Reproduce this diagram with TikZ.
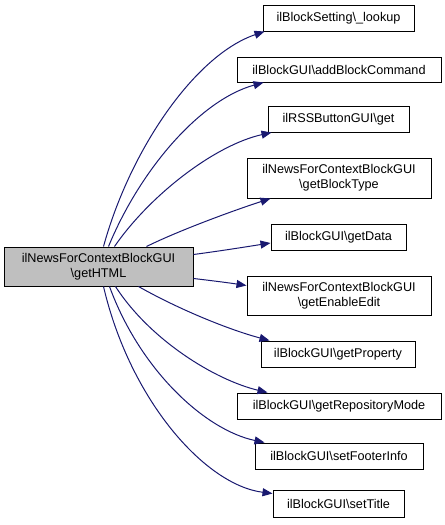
\documentclass[tikz,border=0pt]{standalone}
\usepackage{fontspec}
\setmainfont{Liberation Sans}
\usetikzlibrary{arrows.meta,calc}
\definecolor{edgecol}{HTML}{191970}
\definecolor{mainfill}{HTML}{BFBFBF}
\tikzset{
  box/.style={draw=black, line width=0.75pt, fill=white, align=center, inner sep=1pt,
    font=\fontsize{9.5}{11}\selectfont},
  mainbox/.style={box, fill=mainfill},
  edge/.style={draw=edgecol, line width=0.75pt, -{Triangle[length=7.5pt,width=6pt]}, edgecol}
}
\begin{document}
\begin{tikzpicture}[x=0.75pt,y=-0.75pt]
\useasboundingbox (0,0) rectangle (445,525);
\node[mainbox, minimum width={189*0.75pt}, minimum height={39*0.75pt}] (main) at (98.5,266.5) {ilNewsForContextBlockGUI\\\textbackslash getHTML};
\node[box, minimum width={151*0.75pt}, minimum height={26*0.75pt}] (t1) at (338.5,18) {ilBlockSetting\textbackslash\_lookup};
\node[box, minimum width={204*0.75pt}, minimum height={25*0.75pt}] (t2) at (339,69.5) {ilBlockGUI\textbackslash addBlockCommand};
\node[box, minimum width={141*0.75pt}, minimum height={26*0.75pt}] (t3) at (338.5,119) {ilRSSButtonGUI\textbackslash get};
\node[box, minimum width={184*0.75pt}, minimum height={40*0.75pt}] (t4) at (339,178) {ilNewsForContextBlockGUI\\\textbackslash getBlockType};
\node[box, minimum width={135*0.75pt}, minimum height={26*0.75pt}] (t5) at (338.5,237) {ilBlockGUI\textbackslash getData};
\node[box, minimum width={184*0.75pt}, minimum height={39*0.75pt}] (t6) at (339,295.5) {ilNewsForContextBlockGUI\\\textbackslash getEnableEdit};
\node[box, minimum width={154*0.75pt}, minimum height={26*0.75pt}] (t7) at (338,354) {ilBlockGUI\textbackslash getProperty};
\node[box, minimum width={204*0.75pt}, minimum height={26*0.75pt}] (t8) at (339,406) {ilBlockGUI\textbackslash getRepositoryMode};
\node[box, minimum width={168*0.75pt}, minimum height={26*0.75pt}] (t9) at (339,456) {ilBlockGUI\textbackslash setFooterInfo};
\node[box, minimum width={131*0.75pt}, minimum height={27*0.75pt}] (t10) at (338.5,503.5) {ilBlockGUI\textbackslash setTitle};

% top edges
\draw[edge] ($(main.north west)+(100,0)$) .. controls (130,150) and (195,55) .. ($(t1.south west)+(2,0)$);
\draw[edge] ($(main.north west)+(105,0)$) .. controls (140,170) and (200,100) .. ($(t2.south west)+(27,0)$);
\draw[edge] ($(main.north west)+(111,0)$) .. controls (150,195) and (215,145) .. ($(t3.south west)+(4,0)$);
\draw[edge] ($(main.north west)+(143,0)$) .. controls (180,230) and (235,210) .. ($(t4.south west)+(24,0)$);
\draw[edge] ($(main.north east)+(0,8)$) .. controls (220,251) and (245,247) .. ($(t5.west)+(0,6)$);
\draw[edge] ($(main.south east)+(0,-8)$) .. controls (215,281) and (230,283) .. ($(t6.west)+(0,-10)$);
% bottom edges
\draw[edge] ($(main.south west)+(135,0)$) .. controls (180,310) and (230,330) .. ($(t7.north west)+(9,0)$);
\draw[edge] ($(main.south west)+(112,0)$) .. controls (150,340) and (215,380) .. ($(t8.north west)+(31,0)$);
\draw[edge] ($(main.south west)+(106,0)$) .. controls (140,370) and (205,430) .. ($(t9.north west)+(10,0)$);
\draw[edge] ($(main.south west)+(100,0)$) .. controls (130,400) and (205,485) .. ($(t10.west)+(0,-10)$);
\end{tikzpicture}
\end{document}
